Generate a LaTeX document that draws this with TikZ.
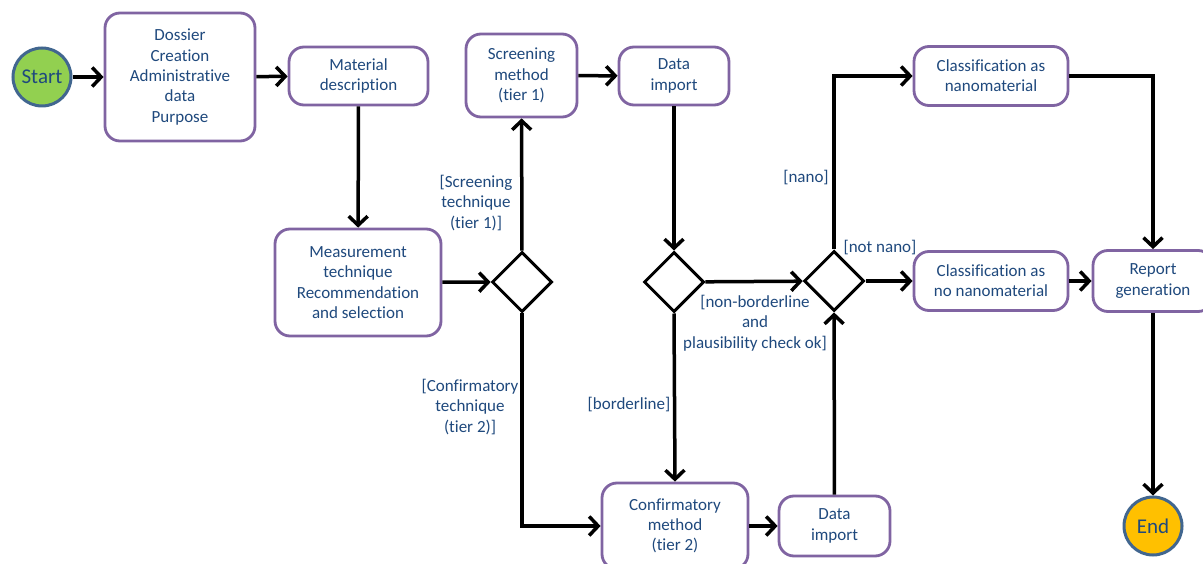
\documentclass[tikz,border=0pt]{standalone}
\usepackage{fontspec}
\setmainfont{Carlito}[Ligatures=NoCommon]
\usetikzlibrary{arrows.meta,shapes.geometric}
\definecolor{txtblue}{HTML}{1F497D}
\definecolor{boxpurple}{HTML}{8064A2}
\definecolor{startgreen}{HTML}{92D050}
\definecolor{endorange}{HTML}{FFC000}
\definecolor{ringblue}{HTML}{41668F}
\tikzset{
  box/.style={draw=boxpurple, line width=2.8pt, rounded corners=15pt, fill=white,
    align=center, text=txtblue, inner sep=0pt, font=\fontsize{17}{20.3}\selectfont,
    execute at begin node={\rule{0pt}{16pt}}},
  decision/.style={draw=black, diamond, line width=3pt, minimum width=60pt, minimum height=60pt, inner sep=0pt, aspect=1},
  terminal/.style={circle, draw=ringblue, line width=3pt, minimum size=58pt, inner sep=0pt,
    text=txtblue, font=\fontsize{21}{22}\selectfont},
  lbl/.style={align=center, text=txtblue, inner sep=0pt, font=\fontsize{17}{20.3}\selectfont},
  arr/.style={line width=3.5pt, -{Straight Barb[length=9pt,width=19pt,line width=3.5pt]}},
}
\begin{document}
\begin{tikzpicture}[x=1pt,y=-1pt]
\useasboundingbox (0,0) rectangle (1203,564);
\fill[white] (0,0) rectangle (1203,564);
% terminals
\node[terminal, fill=startgreen] (start) at (42,77) {Start};
\node[terminal, fill=endorange] (end) at (1153,526) {End};
% boxes
\node[box, minimum width=150pt, minimum height=128pt] (dossier) at (180,77) {Dossier\\Creation\\Administrative\\data\\Purpose};
\node[box, minimum width=139pt, minimum height=58pt] (material) at (358.5,76) {Material\\description};
\node[box, minimum width=111pt, minimum height=83pt] (screening) at (521.5,75.5) {Screening\\method\\(tier 1)};
\node[box, minimum width=110pt, minimum height=58pt] (dataimp1) at (674,76) {Data\\import};
\node[box, minimum width=154pt, minimum height=59pt] (classnano) at (991,76) {Classification as\\nanomaterial};
\node[box, minimum width=166pt, minimum height=107pt] (measure) at (358,282.5) {Measurement\\technique\\Recommendation\\and selection};
\node[box, minimum width=154pt, minimum height=59pt] (classno) at (991,281) {Classification as\\no nanomaterial};
\node[box, minimum width=120pt, minimum height=61pt] (report) at (1153,281) {Report\\generation};
\node[box, minimum width=146pt, minimum height=86pt] (confirm) at (675,526) {Confirmatory\\method\\(tier 2)};
\node[box, minimum width=111pt, minimum height=60pt] (dataimp2) at (834.5,526) {Data\\import};
% decisions
\node[decision] (d1) at (522,282) {};
\node[decision] (d2) at (674,282) {};
\node[decision] (d3) at (834,281) {};
% connectors
\draw[arr] (start) -- (dossier);
\draw[arr] (dossier) -- (material);
\draw[arr] (material) -- (measure);
\draw[arr] (measure) -- (d1);
\draw[arr] (d1) -- (screening);
\draw[arr] (d1.south) |- (confirm.west);
\draw[arr] (screening) -- (dataimp1);
\draw[arr] (dataimp1) -- (d2);
\draw[arr] (d2) -- (d3);
\draw[arr] (d2.south) -- (confirm.north);
\draw[arr] (confirm) -- (dataimp2);
\draw[arr] (dataimp2) -- (d3);
\draw[arr] (d3.north) |- (classnano.west);
\draw[arr] (d3) -- (classno);
\draw[arr] (classnano.east) -| (report.north);
\draw[arr] (classno) -- (report);
\draw[arr] (report) -- (end);
% labels
\node[lbl] (lscreen) at (476,203) {[Screening\\technique\\(tier 1)]};
\node[lbl] (lconf) at (470,407) {[Confirmatory\\technique\\(tier 2)]};
\node[lbl] (lborder) at (629,405) {[borderline]};
\node[lbl] (lnonb) at (755,323) {[non-borderline\\and\\plausibility check ok]};
\node[lbl] (lnano) at (806,178) {[nano]};
\node[lbl] (lnotnano) at (880,248) {[not nano]};
\end{tikzpicture}
\end{document}
